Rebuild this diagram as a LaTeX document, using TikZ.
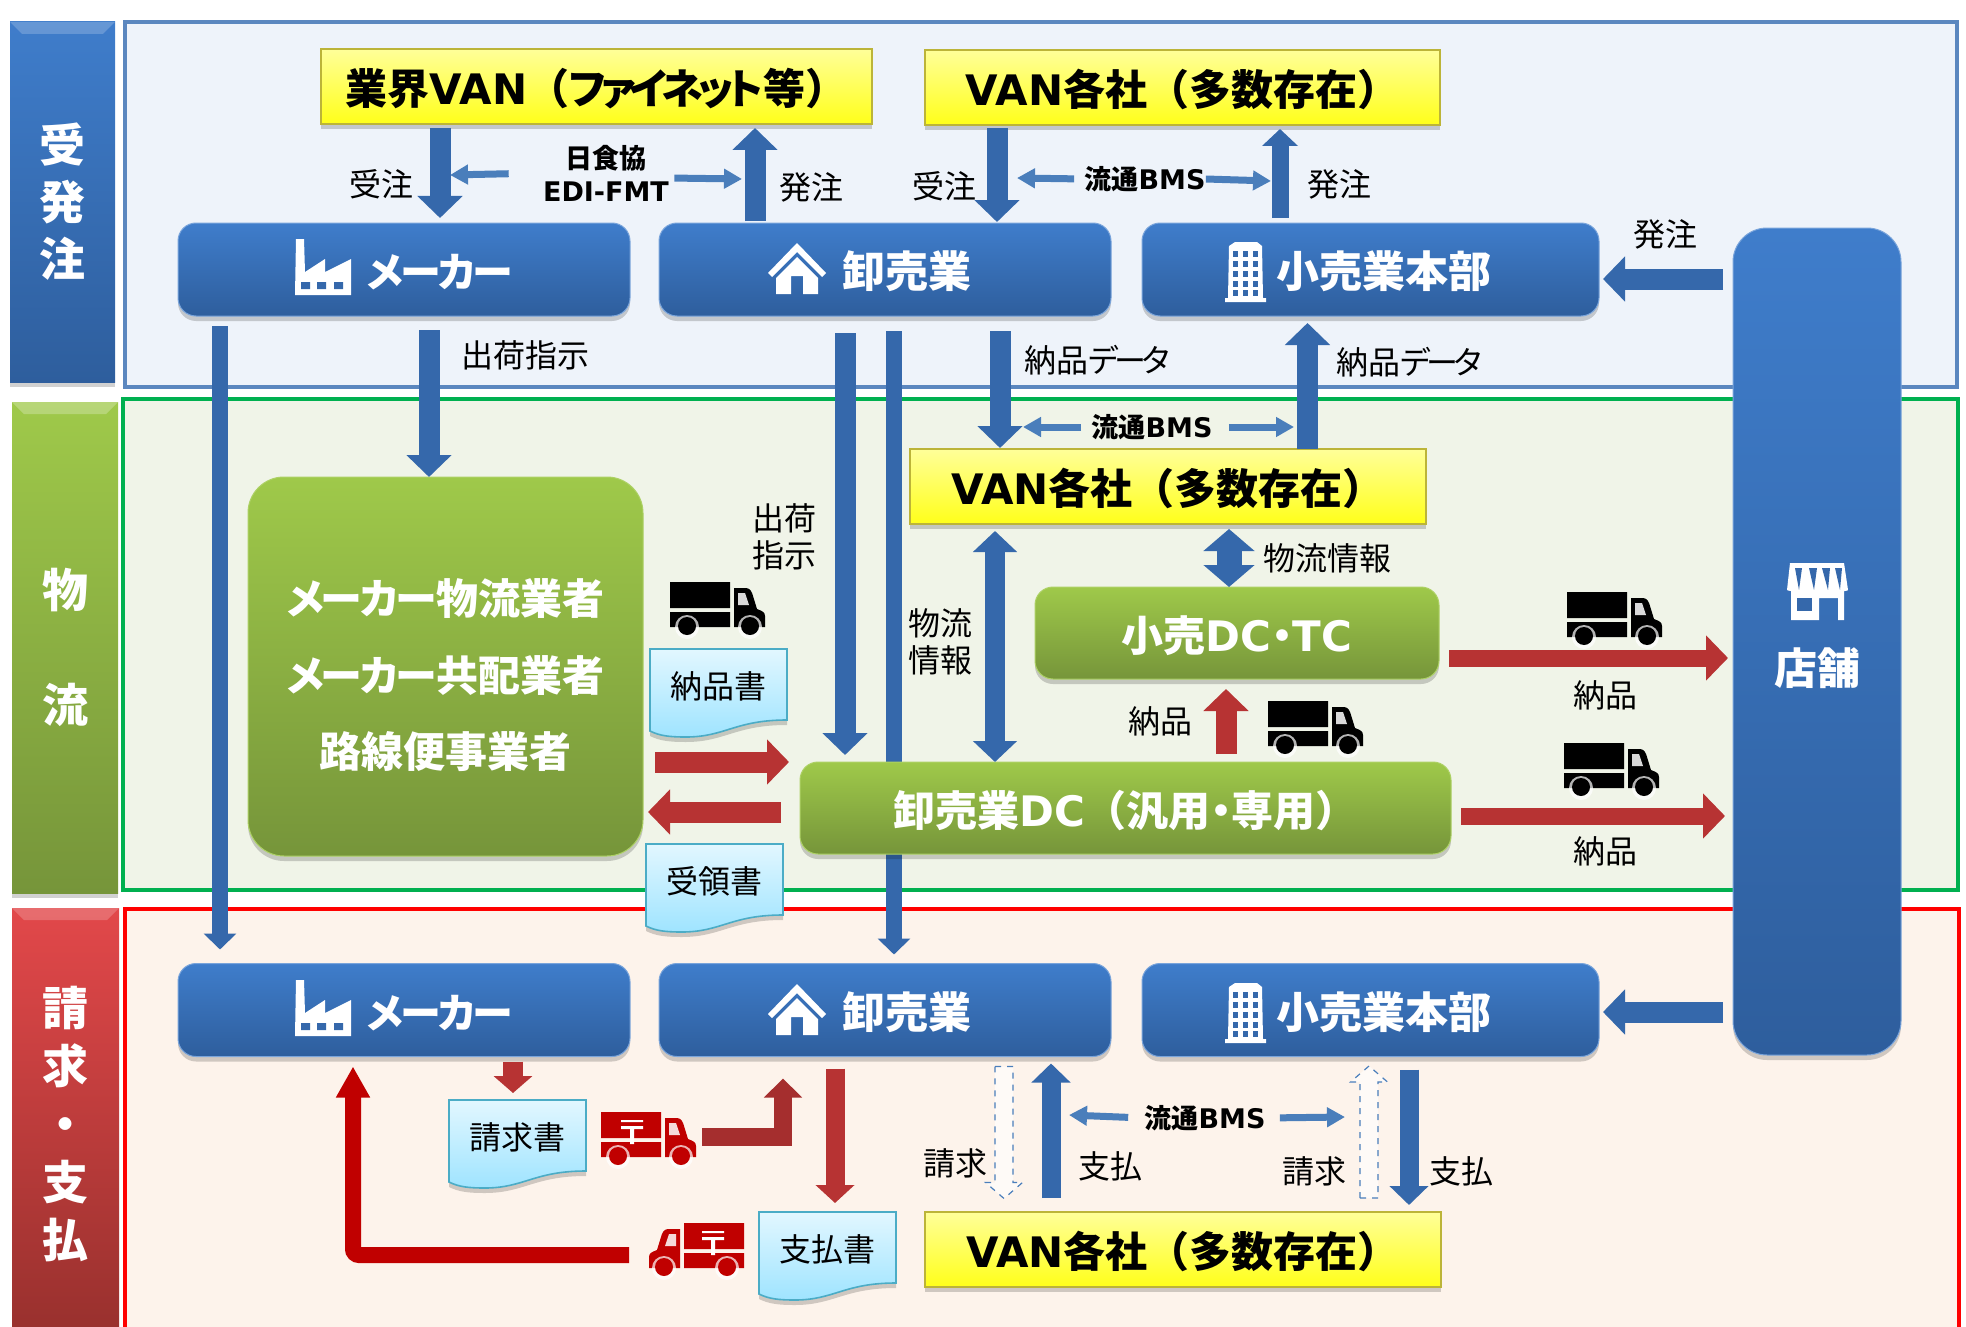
\documentclass[tikz,border=0pt]{standalone}
\usepackage{fontspec}
\setmainfont{Noto Sans CJK JP}
\newfontfamily\kanafont[RawFeature={+palt},LetterSpace=-6]{Noto Sans CJK JP}
\newfontfamily\kanathin[RawFeature={+palt},LetterSpace=-13]{Noto Sans CJK JP}
\newfontfamily\latfont{DejaVu Sans}
\usetikzlibrary{arrows.meta,calc,positioning,shadows}

\definecolor{orderbg}{HTML}{EEF3FA}
\definecolor{logibg}{HTML}{F0F4E8}
\definecolor{billbg}{HTML}{FDF3EB}
\definecolor{orderline}{HTML}{5B87BF}
\definecolor{logiline}{HTML}{00B050}
\definecolor{billline}{HTML}{FF0000}
\definecolor{bluetop}{HTML}{3F7DCB}
\definecolor{bluebot}{HTML}{2E5E9D}
\definecolor{greentop}{HTML}{9FC94A}
\definecolor{greenbot}{HTML}{76953A}
\definecolor{redtop}{HTML}{E2484A}
\definecolor{redbot}{HTML}{97302D}
\definecolor{bluebar}{HTML}{3568AB}
\definecolor{thinblue}{HTML}{4A7EBB}
\definecolor{redbar}{HTML}{B73333}
\definecolor{postred}{HTML}{C00000}
\definecolor{docline}{HTML}{4BACC6}
\definecolor{doctop}{HTML}{E2F7FF}
\definecolor{docbot}{HTML}{9FE4FF}

\newcommand{\latb}[1]{{\latfont\bfseries #1}}
\newcommand{\kana}[1]{{\kanafont #1}}
\newcommand{\makertext}{{\fontsize{20.5}{25}\selectfont\kanafont メーカー}}

\tikzset{
	size/.style 2 args={minimum width=#1*0.5pt, minimum height=#2*0.5pt, inner sep=0pt, outer sep=0pt},
	softshadow/.style={drop shadow={shadow xshift=0pt, shadow yshift=-2.5pt, opacity=.18, fill=black}},
	frame/.style={draw, line width=2.4pt, anchor=north west, inner sep=0pt},
	bandbox/.style={shade, anchor=north west, text=white, align=center, inner sep=0pt, softshadow,
		font=\fontsize{23}{28.5}\selectfont\bfseries},
	vanbox/.style={shade, top color=yellow!40, bottom color=yellow!90!white, draw=yellow!70!black, line width=.6pt,
		softshadow, text height=18pt, text depth=0pt, font=\fontsize{21}{25}\selectfont\bfseries},
	headtext/.style={text=white, text height=18pt, text depth=0pt, font=\fontsize{21.5}{25}\selectfont\bfseries},
	bluebox/.style={shade, top color=bluetop, bottom color=bluebot, draw=bluetop!70!white, line width=.5pt,
		rounded corners=9pt, softshadow, headtext},
	greenbox/.style={shade, top color=greentop, bottom color=greenbot, draw=greentop!85!white, line width=.5pt,
		rounded corners=9pt, softshadow, text=white},
	doclabel/.style={anchor=north west, font=\fontsize{16}{19}\selectfont},
	tag/.style={inner sep=0pt, align=center, font=\fontsize{16}{18.5}\selectfont},
	boldtag/.style={inner sep=0pt, align=center, font=\fontsize{13.5}{16.5}\selectfont\bfseries},
	fatbar/.style n args={3}{line width=#1, -{Triangle[width=#2,length=#3]}},
	fatboth/.style n args={3}{line width=#1, {Triangle[width=#2,length=#3]}-{Triangle[width=#2,length=#3]}},
	bigbar/.style={fatbar={10.5pt}{22pt}{11pt}},
	midbar/.style={fatbar={8pt}{16pt}{8pt}},
	smallbar/.style={fatbar={8.5pt}{17.5pt}{8.5pt}},
	thinbar/.style={thinblue, fatbar={3.5pt}{9.5pt}{9pt}},
	dashbar/.style={draw=thinblue, line width=.6pt, dashed, fill=white, fill opacity=.6},
	docsheet/.pic={
		\draw[shade, top color=doctop, bottom color=docbot, draw=docline, line width=.8pt, softshadow]
			(0,0) -- (137,0) -- (137,71) .. controls (85,71) and (75,88) .. (36,88)
			.. controls (20,88) and (10,87) .. (0,82) -- cycle;
	},
	truck/.pic={
		\fill[pic actions] (0,0) rectangle (60,26) (0,30) rectangle (60,45);
		\fill[pic actions] (64,6) -- (76,6) .. controls (80,6) and (82,10) .. (83,14) -- (87,27)
			.. controls (92,29) and (95,30) .. (95,34) -- (95,45) -- (64,45) -- cycle;
		\fill[white, opacity=.85] (68,11) -- (75,11) -- (79,23) -- (68,23) -- cycle;
		\fill[white, opacity=.7] (17,45) circle (12) (80,45) circle (12);
		\fill[pic actions] (17,44) circle (9) (80,44) circle (9);
	},
	postmark/.pic={
		\fill[white] (20,8) rectangle (42,10) (20,14) rectangle (42,17) (29,17) rectangle (33,32);
	},
	factory/.pic={
		\fill[white] (1,0) -- (9,0) -- (10,33) -- (30,20) -- (30,33) -- (56,20) -- (56,56) -- (0,56) -- cycle;
		\fill[bluebar] (6,43) rectangle (15,50) (22,43) rectangle (31,50) (39,43) rectangle (48,50);
	},
	house/.pic={
		\fill[white] (29,0) -- (58,30) -- (54,34) -- (29,9) -- (4,34) -- (0,30) -- cycle;
		\fill[white] (29,14) -- (50,35) -- (50,51) -- (35,51) -- (35,33) -- (23,33) -- (23,51) -- (8,51) -- (8,35) -- cycle;
	},
	tower/.pic={
		\fill[white] (4,4) -- (10,0) -- (32,0) -- (37,4) -- (38,56) -- (41,56) -- (41,60) -- (0,60) -- (0,56) -- (3,56) -- cycle;
		\foreach \col in {8,18,28}
			\foreach \row in {9,19,29,39,48}
				\fill[bluebar] (\col,\row) rectangle ++(5,6);
	},
	shopicon/.pic={
		\fill[white] (3,1) -- (57,1) -- (61,28) .. controls (60,31) and (3,31) .. (0,28) -- cycle;
		\fill[bluebar] (8,6) -- (15,6) -- (12,28) -- cycle (22,6) -- (30,6) -- (27,28) -- cycle
			(35,6) -- (43,6) -- (41,28) -- cycle (48,6) -- (55,6) -- (53,28) -- cycle;
		\fill[white] (4,28) -- (57,28) -- (57,58) -- (51,58) -- (51,36) -- (32,36) -- (32,58) -- (4,58) -- cycle;
		\fill[bluebar] (10,36) rectangle (25,49);
	}
}

\begin{document}
\begin{tikzpicture}[x=0.5pt, y=-0.5pt]
	\useasboundingbox (0,0) rectangle (1966,1327);

	% --- guides for the arrows ---
	\foreach \name/\x/\y in {colJuchuA/440/0, colHatchuA/755/0, colJuchuB/997/0, colHatchuB/1280/0,
		colMaker/220/0, colShukka/429/0, colSale/845/0, colSaleB/894/0, colNohinA/1000/0, colNohinB/1307.5/0,
		colInfo/995/0, colInfoB/1229/0, colNohinC/1226/0, colBill/513/0, colPay/835/0,
		colShiharaiA/1051/0, colShiharaiB/1409/0, colSeikyuA/1004/0, colSeikyuB/1369/0, colBack/353/0, colElbow/783/0,
		rowOrder/0/279, rowOrderB/0/1012, rowRdc/0/658, rowDc/0/816, rowIn/0/762, rowOut/0/812,
		ediLeft/450/175, ediRight/742/179, bmsLeftA/1017/178, bmsRightA/1271/181,
		bmsLeftB/1023/427, bmsRightB/1294/427, bmsLeftC/1069/1115, bmsRightC/1345/1117,
		truckOut/702/1137, truckBack/629/1255}
		\coordinate (\name) at (\x,\y);

	% --- frames and side labels ---
	\node[frame, draw=orderline, fill=orderbg, size={1832}{365}] (frameOrder) at (125,22) {};
	\node[frame, draw=logiline, fill=logibg, size={1835}{491}] (frameLogi) at (123,399) {};
	\node[frame, draw=billline, fill=billbg, size={1834}{440}] (frameBill) at (125,909) {};

	\node[bandbox, top color=bluetop, bottom color=bluebot, size={105}{360}] (bandOrder) at (10,22) {受\\発\\注};
	\node[bandbox, top color=greentop, bottom color=greenbot, size={106}{491}] (bandLogi) at (12,402) {物\\[29pt]流};
	\node[bandbox, top color=redtop, bottom color=redbot, size={107}{432}, font=\fontsize{23}{29}\selectfont\bfseries] (bandBill) at (12,908) {請\\求\\・\\支\\払};
	\fill[white, opacity=.2] (10,22) -- ++(105,0) -- ++(-12,12) -- ++(-81,0) -- cycle;
	\fill[white, opacity=.25] (12,402) -- ++(106,0) -- ++(-12,12) -- ++(-82,0) -- cycle;
	\fill[white, opacity=.2] (12,908) -- ++(107,0) -- ++(-12,12) -- ++(-83,0) -- cycle;

	% --- order row ---
	\node[vanbox, size={551}{75}] (vanGyokai) at (596.5,86.5) {業界\latb{VAN}（{\kanathin ファイネット}等）};
	\node[vanbox, size={515}{75}] (vanTop) at (1182.5,87.5) {\latb{VAN}各社（多数存在）};
	\node[bluebox, size={452}{93}] (maker) at (404,269.5) {\hspace*{36pt}\makertext};
	\node[bluebox, size={452}{93}] (whole) at (885,269.5) {\hspace*{22pt}卸売業};
	\node[bluebox, size={457}{93}] (hq) at (1370.5,269.5) {\hspace*{13pt}小売業本部};
	\node[bluebox, rounded corners=17pt, size={168}{827}] (shop) at (1817,641.5) {};
	\node[headtext] (shopName) at (1817,666) {店舗};

	% --- billing row ---
	\node[bluebox, size={452}{93}] (makerB) at (404,1010) {\hspace*{36pt}\makertext};
	\node[bluebox, size={452}{93}] (wholeB) at (885,1010) {\hspace*{22pt}卸売業};
	\node[bluebox, size={457}{93}] (hqB) at (1370.5,1010) {\hspace*{13pt}小売業本部};
	\node[vanbox, size={516}{75}] (vanBottom) at (1183,1249.5) {\latb{VAN}各社（多数存在）};

	% --- logistics ---
	\node[vanbox, size={516}{75}] (vanMid) at (1168,486.5) {\latb{VAN}各社（多数存在）};
	\node[greenbox, rounded corners=18pt, size={395}{379}, align=center, font=\fontsize{21}{38.25}\selectfont\bfseries] (carrier) at (445.5,666.5)
		{\rule{0pt}{27pt}\kana{メーカー}物流業者\\\kana{メーカー}共配業者\\路線便事業者};
	\node[greenbox, size={404}{92}, headtext, font=\fontsize{21}{25}\selectfont\bfseries] (retailDc) at (1237,633) {小売\latb{DC}\kana{・}\latb{TC}};

	\draw[bluebar, midbar, shorten <=7.5pt, shorten >=4.5pt] (whole.south -| colSaleB) -- (wholeB.north -| colSaleB);

	\node[greenbox, size={651}{92}, headtext, font=\fontsize{21}{25}\selectfont\bfseries] (wholeDc) at (1125.5,808) {卸売業\latb{DC}（汎用\kana{・}専用）};

	% --- documents ---
	\pic at (650,649) {docsheet};
	\node[doclabel, size={137}{74}] (docNohin) at (650,649) {納品書};
	\pic at (646,844) {docsheet};
	\node[doclabel, size={137}{74}] (docJuryo) at (646,844) {受領書};
	\pic at (449,1100) {docsheet};
	\node[doclabel, size={137}{74}] (docSeikyu) at (449,1100) {請求書};
	\pic at (759,1212) {docsheet};
	\node[doclabel, size={137}{74}] (docShiharai) at (759,1212) {支払書};

	% --- icons ---
	\pic at (295,239) {factory};
	\pic at (295,980) {factory};
	\pic at (768,243) {house};
	\pic at (768,984) {house};
	\pic at (1225,242) {tower};
	\pic at (1225,983) {tower};
	\pic at (1787,562) {shopicon};

	\pic[black] at (670,582) {truck};
	\pic[black] at (1567,592) {truck};
	\pic[black] at (1268,701) {truck};
	\pic[black] at (1564,743) {truck};
	\pic[postred] at (601,1112) {truck};
	\pic at (601,1112) {postmark};
	\pic[postred, xscale=-1] at (744,1223) {truck};
	\pic[xscale=-1] at (744,1223) {postmark};

	% --- labels ---
	\node[tag] (lbJuchuA) at (381,184) {受注};
	\node[tag] (lbHatchuA) at (811,187) {発注};
	\node[tag] (lbJuchuB) at (944,186) {受注};
	\node[tag] (lbHatchuB) at (1339,184) {発注};
	\node[tag] (lbHatchuC) at (1665,234) {発注};
	\node[boldtag] (edi) at (606,173) {日食協\\\latb{EDI-FMT}};
	\node[boldtag] (bmsTop) at (1145,179) {流通\latb{BMS}};
	\node[boldtag] (bmsMid) at (1152,427) {流通\latb{BMS}};
	\node[boldtag] (bmsBot) at (1205,1118) {流通\latb{BMS}};
	\node[tag] (lbShukkaA) at (525,355) {出荷指示};
	\node[tag] (lbNohinA) at (1097,360) {納品{\kanathin データ}};
	\node[tag] (lbNohinB) at (1409,362) {納品{\kanathin データ}};
	\node[tag] (lbShukkaB) at (784,537) {出荷\\指示};
	\node[tag] (lbInfoA) at (940,642) {物流\\情報};
	\node[tag] (lbInfoB) at (1327,558) {物流情報};
	\node[tag] (lbDeliverA) at (1160,721) {納品};
	\node[tag] (lbDeliverB) at (1605,695) {納品};
	\node[tag] (lbDeliverC) at (1605,851) {納品};
	\node[tag] (lbSeikyuA) at (955,1163) {請求};
	\node[tag] (lbPayA) at (1110,1166) {支払};
	\node[tag] (lbSeikyuB) at (1314,1171) {請求};
	\node[tag] (lbPayB) at (1461,1171) {支払};

	% --- blue arrows ---
	\draw[bluebar, bigbar, shorten <=2pt, shorten >=2.5pt] (vanGyokai.south -| colJuchuA) -- (maker.north -| colJuchuA);
	\draw[bluebar, bigbar, shorten <=1pt, shorten >=2pt] (whole.north -| colHatchuA) -- (vanGyokai.south -| colHatchuA);
	\draw[bluebar, bigbar, shorten <=1.5pt, shorten >=.5pt] (vanTop.south -| colJuchuB) -- (whole.north -| colJuchuB);
	\draw[bluebar, smallbar, shorten <=2.5pt, shorten >=2pt] (hq.north -| colHatchuB) -- (vanTop.south -| colHatchuB);
	\draw[bluebar, midbar, shorten <=5pt, shorten >=7pt] (maker.south -| colMaker) -- (makerB.north -| colMaker);
	\draw[bluebar, bigbar, shorten <=7pt] (maker.south -| colShukka) -- (carrier.north -| colShukka);
	\draw[bluebar, bigbar, shorten <=8.5pt, shorten >=3.5pt] (whole.south -| colSale) -- (wholeDc.north -| colSale);
	\draw[bluebar, bigbar, shorten <=7.5pt, shorten >=.5pt] (whole.south -| colNohinA) -- (vanMid.north -| colNohinA);
	\draw[bluebar, bigbar, shorten >=3.5pt] (vanMid.north -| colNohinB) -- (hq.south -| colNohinB);
	\draw[bluebar, fatboth={10pt}{21.5pt}{10.5pt}, shorten <=3.5pt] (vanMid.south -| colInfo) -- (wholeDc.north -| colInfo);
	\draw[bluebar, fatboth={12.5pt}{25pt}{11pt}, shorten <=2.5pt] (vanMid.south -| colInfoB) -- (retailDc.north -| colInfoB);
	\draw[bluebar, bigbar, shorten <=5pt, shorten >=2pt] (shop.west |- rowOrder) -- (hq.east |- rowOrder);
	\draw[bluebar, bigbar, shorten <=5pt, shorten >=2pt] (shop.west |- rowOrderB) -- (hqB.east |- rowOrderB);
	\draw[bluebar, fatbar={9.5pt}{19pt}{9.5pt}, shorten <=7pt, shorten >=3.5pt] (vanBottom.north -| colShiharaiA) -- (wholeB.south -| colShiharaiA);
	\draw[bluebar, fatbar={9.5pt}{19pt}{9.5pt}, shorten <=6.5pt, shorten >=3.5pt] (hqB.south -| colShiharaiB) -- (vanBottom.north -| colShiharaiB);

	% --- thin arrows at the labels ---
	\draw[thinbar, shorten <=17pt] (edi.west) -- (ediLeft);
	\draw[thinbar, shorten <=2.5pt] ($(edi.east)+(0,5)$) -- (ediRight);
	\draw[thinbar, shorten <=5pt] (bmsTop.west) -- (bmsLeftA);
	\draw[thinbar] (bmsTop.east) -- (bmsRightA);
	\draw[thinbar, shorten <=5pt] (bmsMid.west) -- (bmsLeftB);
	\draw[thinbar, shorten <=8pt] (bmsMid.east) -- (bmsRightB);
	\draw[thinbar, shorten <=8pt] (bmsBot.west) -- (bmsLeftC);
	\draw[thinbar, shorten <=7pt] (bmsBot.east) -- (bmsRightC);

	% --- dashed arrows ---
	\draw[dashbar] (wholeB.south -| colSeikyuA) ++(-9,10) -- ++(18,0) -- ++(0,116) -- ++(9.5,0) -- ++(-18.5,16) -- ++(-18.5,-16) -- ++(9.5,0) -- cycle;
	\draw[dashbar] (vanBottom.north -| colSeikyuB) ++(-9,-14) -- ++(18,0) -- ++(0,-116) -- ++(9.5,0) -- ++(-18.5,-16) -- ++(-18.5,16) -- ++(9.5,0) -- cycle;

	% --- red arrows ---
	\draw[redbar, bigbar, shorten <=6pt, shorten >=5.5pt] (carrier.east |- rowIn) -- (wholeDc.west |- rowIn);
	\draw[redbar, bigbar, shorten <=9.5pt, shorten >=2.5pt] (wholeDc.west |- rowOut) -- (carrier.east |- rowOut);
	\draw[redbar, bigbar, shorten <=4pt, shorten >=5pt] (wholeDc.north -| colNohinC) -- (retailDc.south -| colNohinC);
	\draw[redbar, fatbar={8.5pt}{22pt}{11pt}, shorten <=5pt, shorten >=2.5pt] (retailDc.east |- rowRdc) -- (shop.west |- rowRdc);
	\draw[redbar, fatbar={8.5pt}{22pt}{11pt}, shorten <=5pt, shorten >=4pt] (wholeDc.east |- rowDc) -- (shop.west |- rowDc);
	\draw[redbar, fatbar={10pt}{19pt}{8.5pt}, shorten <=2.5pt, shorten >=3.5pt] (makerB.south -| colBill) -- (docSeikyu.north -| colBill);
	\draw[redbar, fatbar={9.5pt}{19pt}{9pt}, shorten <=6pt, shorten >=4.5pt] (wholeB.south -| colPay) -- (docShiharai.north -| colPay);
	\draw[redbar!90!black, fatbar={9pt}{18.5pt}{9.5pt}, shorten >=11pt] (truckOut) -| (wholeB.south -| colElbow);
	\draw[postred, fatbar={8pt}{16pt}{15.5pt}, rounded corners=3pt, shorten >=5pt] (truckBack) -| (makerB.south -| colBack);

\end{tikzpicture}
\end{document}
